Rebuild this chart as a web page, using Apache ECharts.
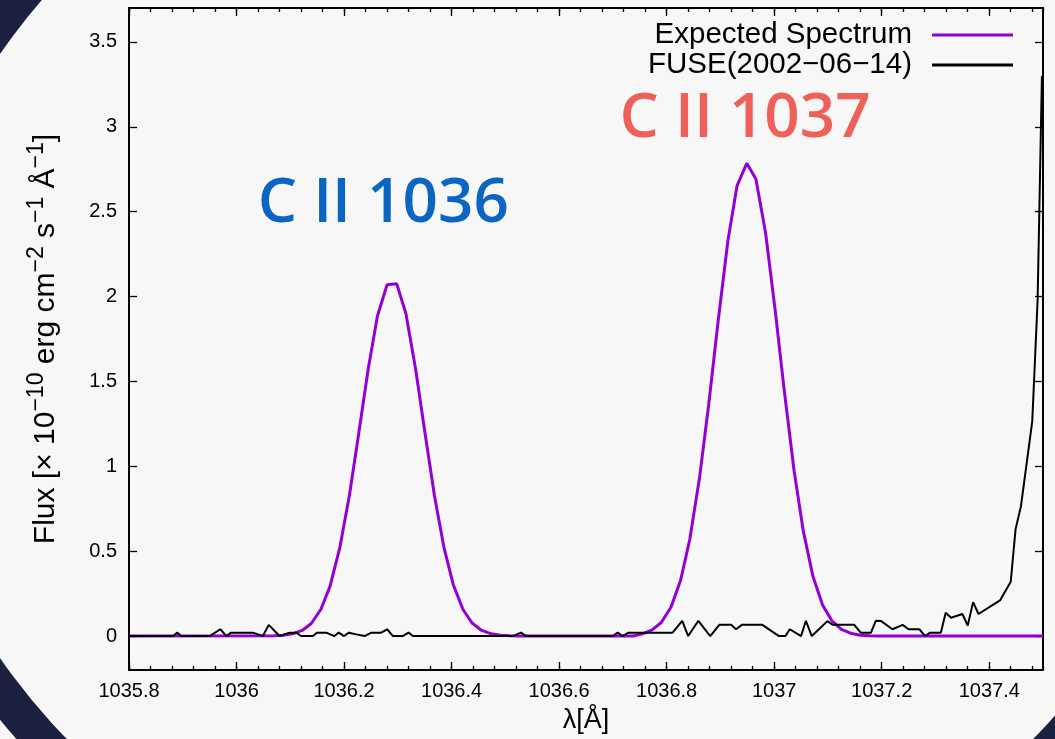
<!DOCTYPE html>
<html>
<head>
<meta charset="utf-8">
<script src="https://cdn.jsdelivr.net/npm/echarts@6/dist/echarts.min.js"></script>
<style>
  html, body { margin: 0; padding: 0; background: #f7f7f7; }
  #chart { width: 1055px; height: 739px; }
</style>
</head>
<body>
<div id="chart"></div>
<script>
// Tick labels
const xTicks = [1035.8, 1036, 1036.2, 1036.4, 1036.6, 1036.8, 1037, 1037.2, 1037.4];
const yTicks = [0, 0.5, 1, 1.5, 2, 2.5, 3, 3.5];

// Model spectrum of the C II doublet (wavelength in Å, flux in 1e-10 erg cm^-2 s^-1 Å^-1)
const expWave = [
  1035.800, 1036.069, 1036.087, 1036.104, 1036.122, 1036.139, 1036.157, 1036.174,
  1036.192, 1036.210, 1036.227, 1036.245, 1036.262, 1036.280, 1036.298, 1036.315,
  1036.333, 1036.350, 1036.368, 1036.386, 1036.403, 1036.421, 1036.438, 1036.456,
  1036.474, 1036.491, 1036.509, 1036.526, 1036.738, 1036.755, 1036.773, 1036.790,
  1036.808, 1036.826, 1036.843, 1036.861, 1036.878, 1036.896, 1036.914, 1036.931,
  1036.949, 1036.966, 1036.984, 1037.002, 1037.019, 1037.037, 1037.054, 1037.072,
  1037.090, 1037.107, 1037.125, 1037.142, 1037.160, 1037.178, 1037.195, 1037.500
];
const expFlux = [
  0, 0.002, 0.005, 0.013, 0.033, 0.074, 0.158, 0.294,
  0.519, 0.830, 1.187, 1.575, 1.884, 2.070, 2.075, 1.900,
  1.575, 1.208, 0.830, 0.519, 0.304, 0.158, 0.077, 0.033,
  0.013, 0.005, 0.002, 0, 0, 0.013, 0.036, 0.080,
  0.170, 0.329, 0.569, 0.929, 1.358, 1.861, 2.330, 2.654,
  2.785, 2.692, 2.376, 1.916, 1.440, 0.975, 0.621, 0.353,
  0.183, 0.091, 0.040, 0.017, 0.005, 0.002, 0, 0
];

// FUSE observation, 2002-06-14
const fuseWave = [
  1035.800, 1035.882, 1035.890, 1035.897, 1035.950, 1035.970, 1035.981, 1035.990,
  1036.030, 1036.049, 1036.060, 1036.080, 1036.099, 1036.111, 1036.120, 1036.142,
  1036.150, 1036.167, 1036.182, 1036.190, 1036.200, 1036.209, 1036.223, 1036.238,
  1036.251, 1036.269, 1036.280, 1036.291, 1036.309, 1036.320, 1036.328, 1036.514,
  1036.529, 1036.539, 1036.700, 1036.709, 1036.718, 1036.729, 1036.811, 1036.829,
  1036.840, 1036.859, 1036.881, 1036.898, 1036.920, 1036.929, 1036.940, 1036.978,
  1037.009, 1037.021, 1037.029, 1037.050, 1037.059, 1037.070, 1037.099, 1037.109,
  1037.149, 1037.161, 1037.180, 1037.189, 1037.199, 1037.220, 1037.239, 1037.250,
  1037.270, 1037.281, 1037.290, 1037.310, 1037.319, 1037.329, 1037.350, 1037.360,
  1037.370, 1037.380, 1037.420, 1037.440, 1037.449, 1037.459, 1037.480, 1037.490,
  1037.498
];
const fuseFlux = [
  0, 0, 0.02, 0, 0, 0.04, 0, 0.02,
  0.02, 0, 0.066, 0, 0.02, 0.02, 0, 0,
  0.02, 0.02, 0, 0.02, 0, 0.02, 0.01, 0,
  0.02, 0.02, 0.04, 0, 0, 0.02, 0, 0,
  0.02, 0, 0, 0.02, 0, 0.02, 0.02, 0.09,
  0, 0.09, 0, 0.066, 0.066, 0.04, 0.066, 0.066,
  0, 0, 0.04, 0, 0.09, 0, 0.088, 0.066,
  0.066, 0.02, 0.02, 0.09, 0.088, 0.04, 0.066, 0.04,
  0.04, 0, 0.02, 0.02, 0.137, 0.108, 0.13, 0.062,
  0.2, 0.13, 0.21, 0.32, 0.63, 0.765, 1.265, 1.98,
  3.3
];

// Line identifications and where their captions sit (data units)
const lineNames = ['C II 1036', 'C II 1037'];
const lineCaptionWave = [1036.273, 1036.946];
const lineCaptionFlux = [2.542, 3.045];

const seriesNames = ['Expected Spectrum', 'FUSE(2002\u221206\u221214)'];

const captionColors = ['#0a66c2', '#ee6058'];
const FONT = '"Liberation Sans", Arial, Helvetica, sans-serif';
const BLACK = '#000';
const PURPLE = '#9400d3';

const chart = echarts.init(document.getElementById('chart'), null, { renderer: 'canvas' });

function pairs(xs, ys) { return xs.map((x, i) => [x, ys[i]]); }
function plain(v) { return String(v); }

const X_MIN = 1035.8, X_MAX = 1037.5, Y_MIN = -0.2, Y_MAX = 3.7;

function xAxisDef(position, major, withLabels) {
  const ax = {
    type: 'value', gridIndex: 0, position: position,
    min: X_MIN, max: X_MAX,
    splitLine: { show: false },
    axisLine: { show: major, onZero: false, lineStyle: { color: BLACK, width: 2 } },
    axisTick: { show: true, inside: true, length: major ? 8 : 4, lineStyle: { color: BLACK, width: 1.3 } },
    axisLabel: { show: false }
  };
  if (major) {
    ax.axisTick.customValues = xTicks;
    if (withLabels) {
      ax.axisLabel = { show: true, customValues: xTicks, formatter: plain, margin: 11, fontSize: 20, color: BLACK, fontFamily: FONT };
    }
  } else {
    ax.interval = 0.04;
  }
  return ax;
}

function yAxisDef(position, withLabels) {
  const ax = {
    type: 'value', gridIndex: 0, position: position,
    min: Y_MIN, max: Y_MAX,
    splitLine: { show: false },
    axisLine: { show: true, onZero: false, lineStyle: { color: BLACK, width: 2 } },
    axisTick: { show: true, inside: true, length: 8, customValues: yTicks, lineStyle: { color: BLACK, width: 1.3 } },
    axisLabel: { show: false }
  };
  if (withLabels) {
    ax.axisLabel = { show: true, customValues: yTicks, formatter: plain, margin: 12, fontSize: 20, color: BLACK, fontFamily: FONT };
  }
  return ax;
}

const xMain = xAxisDef('bottom', true, true);
xMain.name = '\u03bb[\u00c5]';
xMain.nameLocation = 'middle';
xMain.nameGap = 37;
xMain.nameTextStyle = { fontSize: 27, color: BLACK, fontFamily: FONT };

const yMain = yAxisDef('left', true);
yMain.name = '{n|Flux [\u00d7 10}{s|\u221210}{n| erg cm}{s|\u22122}{n| s}{s|\u22121}{n| \u00c5}{s|\u22121}{n|]}';
yMain.nameLocation = 'middle';
yMain.nameRotate = 90;
yMain.nameGap = 62;
yMain.nameTextStyle = {
  color: BLACK, fontFamily: FONT,
  rich: {
    n: { fontSize: 30, lineHeight: 42, color: BLACK, fontFamily: FONT },
    s: { fontSize: 23, lineHeight: 14, verticalAlign: 'top', color: BLACK, fontFamily: FONT }
  }
};

const option = {
  backgroundColor: '#f7f7f7',
  animation: false,
  graphic: {
    elements: [
      // dark decorative ring behind the plot
      { type: 'circle', x: 550, y: 356, scaleX: 682 / 615, shape: { cx: 0, cy: 0, r: 615 },
        style: { fill: '#1c2141' }, z: -20, silent: true },
      { type: 'circle', x: 550, y: 356, scaleX: 645 / 578, shape: { cx: 0, cy: 0, r: 578 },
        style: { fill: '#f7f7f7' }, z: -19, silent: true }
    ]
  },
  grid: { left: 129, top: 8, width: 914, height: 663, containLabel: false },
  legend: {
    data: [
      { name: seriesNames[0], icon: 'rect', itemStyle: { color: PURPLE } },
      { name: seriesNames[1], icon: 'rect', itemStyle: { color: BLACK } }
    ],
    orient: 'vertical',
    right: 42, top: 20,
    padding: 0,
    align: 'right',
    itemWidth: 81, itemHeight: 3, itemGap: 0,
    textStyle: { fontSize: 29.5, lineHeight: 29, color: BLACK, fontFamily: FONT, padding: [0, 15, 0, 0] }
  },
  xAxis: [
    xMain,
    xAxisDef('top', true, false),
    xAxisDef('bottom', false, false),
    xAxisDef('top', false, false)
  ],
  yAxis: [yMain, yAxisDef('right', false)],
  series: [
    {
      name: seriesNames[0], type: 'line', xAxisIndex: 0, yAxisIndex: 0,
      data: pairs(expWave, expFlux),
      symbol: 'none', showSymbol: false, smooth: false, clip: true,
      lineStyle: { color: PURPLE, width: 3 }, itemStyle: { color: PURPLE }, z: 3
    },
    {
      name: seriesNames[1], type: 'line', xAxisIndex: 0, yAxisIndex: 0,
      data: pairs(fuseWave, fuseFlux),
      symbol: 'none', showSymbol: false, smooth: false, clip: true,
      lineStyle: { color: BLACK, width: 2 }, itemStyle: { color: BLACK }, z: 4
    },
    {
      name: 'captions', type: 'scatter', xAxisIndex: 0, yAxisIndex: 0,
      symbolSize: 0, silent: true, z: 5,
      itemStyle: { opacity: 1 },
      data: lineNames.map((n, i) => ({
        name: n, value: [lineCaptionWave[i], lineCaptionFlux[i]],
        label: { color: captionColors[i] }
      })),
      label: {
        show: true, position: 'inside', formatter: '{b}',
        fontSize: 62, fontWeight: 600, fontFamily: '"Open Sans", "Noto Sans", sans-serif'
      }
    }
  ]
};

chart.setOption(option);
</script>
</body>
</html>
